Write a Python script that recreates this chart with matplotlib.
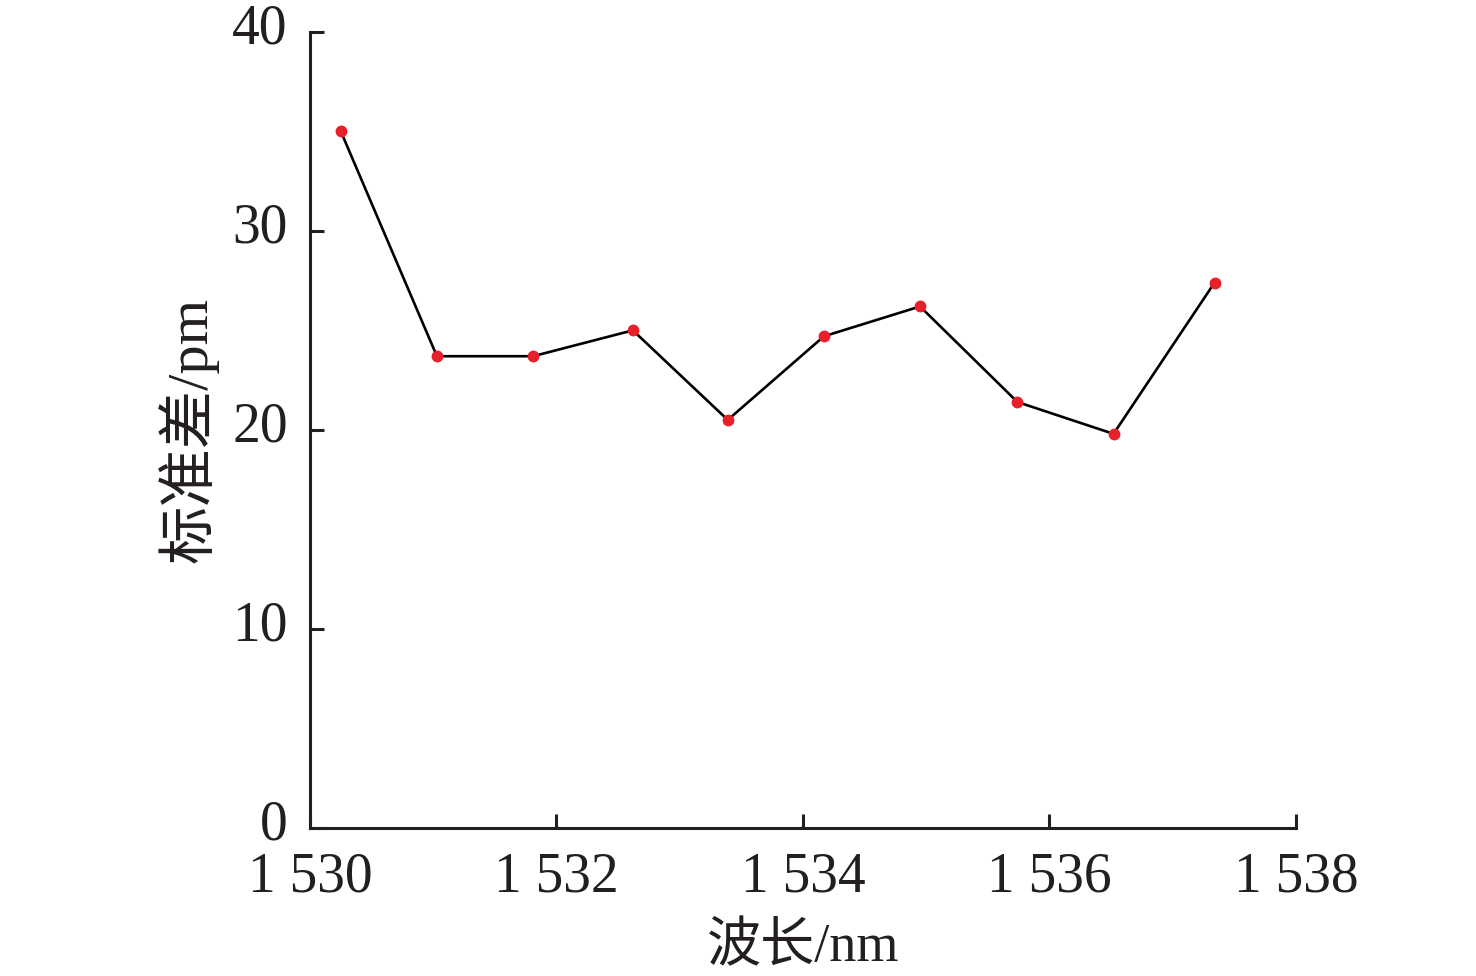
import matplotlib
matplotlib.use('Agg')
import matplotlib.pyplot as plt
import matplotlib.transforms as mtransforms
from matplotlib.ticker import FuncFormatter

plt.rcParams['font.family'] = ['Liberation Serif', 'Noto Sans CJK SC']

wavelength = [1530.25, 1531.03, 1531.81, 1532.62, 1533.39, 1534.17, 1534.95, 1535.74, 1536.52, 1537.34]
std_pm = [35.0, 23.7, 23.7, 25.0, 20.5, 24.7, 26.2, 21.4, 19.8, 27.4]
x_ticks = [1530, 1532, 1534, 1536, 1538]
y_ticks = [0, 10, 20, 30, 40]

fig = plt.figure(figsize=(14.76, 9.76), dpi=100)
ax = fig.add_axes([0.210, 0.1516, 0.668, 0.8159])

ax.plot(wavelength, std_pm, color='black', lw=1.9, zorder=2)
ax.plot(wavelength, std_pm, 'o', color='#e8202a', ms=7.5, zorder=3)

ax.set_xlim(1530, 1538)
ax.set_ylim(0, 40)
ax.set_xticks(x_ticks)
ax.set_yticks(y_ticks)
ax.xaxis.set_major_formatter(FuncFormatter(lambda v, p: f"{int(v):,}".replace(",", " ")))

for s in ['top', 'right']:
    ax.spines[s].set_visible(False)
for s in ['left', 'bottom']:
    ax.spines[s].set_linewidth(2.2)
    ax.spines[s].set_color('#231f20')

ax.tick_params(direction='in', length=10, width=2.2, color='#231f20',
               labelsize=40, labelcolor='#231f20')
ax.tick_params(axis='x', pad=17)
ax.tick_params(axis='y', pad=16)

# nudge y tick labels up a little, as in the reference
up = mtransforms.ScaledTranslation(0, 6 / 72, fig.dpi_scale_trans)
for lbl in ax.get_yticklabels():
    lbl.set_transform(lbl.get_transform() + up)

ax.set_xlabel('波长/nm', fontsize=39, color='#231f20', labelpad=14)
ax.set_ylabel('标准差/pm', fontsize=42, color='#231f20', labelpad=10)

fig.savefig('out.png', dpi=100)
